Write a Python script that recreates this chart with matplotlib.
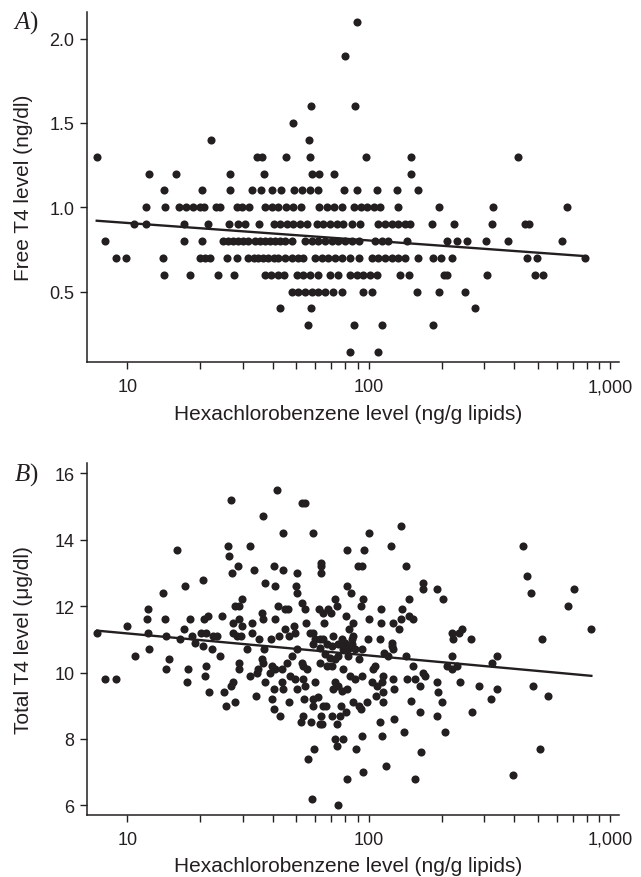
import numpy as np
import matplotlib
matplotlib.use('Agg')
import matplotlib.pyplot as plt
from matplotlib.ticker import FixedLocator, NullFormatter, FixedFormatter

# ---------------- data ----------------
# Panel A: free T4 (ng/dl) levels and hexachlorobenzene (ng/g lipids) per level
ft4_levels = [2.1, 1.9, 1.6, 1.5, 1.4, 1.3, 1.2, 1.1, 1.0, 0.9, 0.8, 0.7, 0.6, 0.5, 0.4, 0.3, 0.14]
hcb_ft4_2_1 = [89]
hcb_ft4_1_9 = [80]
hcb_ft4_1_6 = [57.7, 87.5]
hcb_ft4_1_5 = [48.4]
hcb_ft4_1_4 = [22.1, 56.5]
hcb_ft4_1_3 = [7.47, 34.4, 36.0, 45.3, 57.0, 97, 150, 416]
hcb_ft4_1_2 = [12.3, 15.9, 26.5, 36.8, 58.3, 62.1, 72, 149.6]
hcb_ft4_1_1 = [14.2, 20.3, 26.7, 32.7, 35.7, 39.7, 43.3, 49.0, 52.7, 57.1, 61.8, 78.9, 89.1,
               108, 131, 159]
hcb_ft4_1_0 = [11.9, 14.3, 16.4, 17.5, 18.7, 19.9, 20.8, 23.3, 24.2, 28.4, 29.8, 32.0, 37.2,
               39.7, 42.2, 45.4, 48.6, 52.2, 62.4, 67.0, 71.8, 77.3, 86.9, 92.6, 98.6, 105,
               111, 132, 195, 326, 663]
hcb_ft4_0_9 = [10.7, 12.0, 17.1, 21.5, 26.4, 28.8, 30.7, 35.1, 40.3, 42.9, 45.7, 48.6, 51.9,
               55.3, 60.8, 64.8, 69.1, 73.6, 78.4, 84.9, 92.0, 109.4, 116.7, 124.4, 132.5,
               141.3, 148, 182, 226, 324, 442, 461]
hcb_ft4_0_8 = [8.1, 17.1, 20.4, 25.0, 26.2, 27.5, 28.8, 30.2, 31.7, 33.8, 35.4, 37.2, 39.0,
               40.9, 42.9, 45.0, 48.0, 54.4, 58.0, 61.8, 65.9, 70.2, 74.8, 79.7, 84.9, 90.6,
               106, 113, 120.5, 143.5, 210, 231, 254, 305, 377, 631]
hcb_ft4_0_7 = [8.98, 9.88, 14.0, 20.0, 21.0, 22.0, 25.8, 28.4, 31.7, 33.3, 34.9, 36.6, 38.4,
               40.3, 42.2, 45.0, 48.0, 51.1, 53.6, 59.8, 63.8, 67.9, 72.4, 77.3, 83.6, 91.4,
               102.8, 109.4, 116.7, 124.4, 132.5, 141.3, 160, 185, 199, 220, 452, 497, 787]
hcb_ft4_0_6 = [14.2, 18.1, 23.8, 27.7, 37.2, 39.5, 42.2, 44.6, 50.2, 53.6, 57.1, 61.8, 69.1,
               74.8, 83.6, 89.1, 94.8, 101, 108.4, 134.6, 146, 204, 211, 307, 486, 524]
hcb_ft4_0_5 = [48.0, 51.1, 54.4, 58.0, 61.8, 65.9, 71.3, 77.3, 94.8, 102.8, 158, 196, 250]
hcb_ft4_0_4 = [42.9, 57.7, 275]
hcb_ft4_0_3 = [55.9, 86.4, 113.5, 184]
hcb_ft4_0_14 = [83.4, 109.6]
hcb_ft4_rows = [hcb_ft4_2_1, hcb_ft4_1_9, hcb_ft4_1_6, hcb_ft4_1_5, hcb_ft4_1_4, hcb_ft4_1_3,
                hcb_ft4_1_2, hcb_ft4_1_1, hcb_ft4_1_0, hcb_ft4_0_9, hcb_ft4_0_8, hcb_ft4_0_7,
                hcb_ft4_0_6, hcb_ft4_0_5, hcb_ft4_0_4, hcb_ft4_0_3, hcb_ft4_0_14]
# regression line
fit_a_x = [7.47, 787]
fit_a_y = [0.92, 0.71]

# Panel B: hexachlorobenzene (ng/g lipids) vs total T4 (ug/dl)
hcb_b = [26.8, 36.4, 16.0, 26.2, 32.3, 26.4, 28.6, 27.2, 33.3, 37.2, 20.6, 17.3, 14.1, 29.8,
         12.2, 27.9, 29.0, 12.1, 14.3, 18.2, 20.7, 21.5, 24.6, 36.0, 10.0, 17.2, 29.0, 27.3,
         29.9, 32.9, 32.7, 36.6, 7.5, 12.2, 14.5, 16.6, 18.6, 20.2, 21.2, 22.7, 23.4, 27.3,
         28.4, 29.6, 35.1,
         19.1, 20.5, 22.4, 12.3, 10.8, 14.9, 31.4, 36.8, 24.2, 29.0, 36.0, 14.5, 17.8, 21.1,
         29.0, 34.8, 34.5, 8.1, 9.0, 21.0, 32.3, 17.7, 27.5, 26.9, 21.8, 25.1, 34.1, 25.7,
         28.0, 37.2,
         41.6, 52.7, 54.4, 44.3, 58.9, 100, 136, 123.6, 81.3, 95.8, 63.2, 63.2, 63.2, 89.9,
         94.0, 142, 40.4, 44.0, 50.5, 40.9, 49.7, 50.2, 81.3, 84.7, 167, 167, 191, 203, 147,
         52.7, 54.3, 72.4, 94.8, 92.8, 42.0, 45.0, 46.4, 40.9, 62.4, 64.8, 67.9, 69.7, 73.6,
         55.1, 65.3, 80.5, 86.3, 83.0, 100, 112, 112.7, 126, 133, 136, 137, 147, 153, 45.0,
         46.5, 49.4, 49.2, 42.5, 39.3, 57.1, 58.9, 59.8, 62.8, 64.8, 71.0, 77.3, 86.3, 84.9,
         98.9, 111, 124.4,
         36.6, 39.6, 40.9, 39.0, 43.6, 47.2, 49.4, 45.7, 48.0, 50.2, 52.7, 53.6, 55.3, 53.6,
         54.4, 40.3, 43.6, 44.3, 50.2, 59.8, 62.8, 67.0, 70.2, 72.4, 74.8, 78.4, 82.2, 87.7,
         93.5, 78.4, 83.6, 87.7, 93.5, 80.8, 72.4, 74.8, 71.3, 77.3, 106, 104.5, 102.8, 108,
         114.8, 113, 127.6, 114.8, 107, 126.3, 143.5, 152.8, 155, 163, 168, 170, 39.6, 46.5,
         54.1, 58.9, 61.8, 58.5, 64.8, 66.2, 77.0, 85.7, 91.0, 92.8, 98.2, 114, 149.7, 40.6,
         42.9, 53.2, 63.2, 70.2, 76.1, 80.1, 52.2, 57.6, 62.8, 64.1, 73.6, 111, 126.7, 140,
         163, 72.4, 77.8, 73.6, 93.5, 113.8, 88.6, 59.5, 55.9, 164, 117.4, 94.8, 81.5, 155,
         58.3, 74.8,
         115.6, 120.5, 142.6, 124.4, 126.3,
         58.9, 62.8, 67.0, 70.6, 74.8, 79.7, 84.9, 66.0, 69.1, 82.2, 90.6,
         436, 451, 468, 705, 667, 220, 222, 237, 244, 264, 522, 834,
         220, 210, 220, 231, 323, 339, 191, 239, 286, 339, 321, 477, 553, 194, 200, 191, 267,
         206, 513, 396]
tt4_b = [15.2, 14.7, 13.7, 13.8, 13.8, 13.5, 13.2, 13.0, 13.1, 12.7, 12.8, 12.6, 12.4, 12.2,
         11.9, 12.0, 12.0, 11.6, 11.6, 11.6, 11.6, 11.7, 11.7, 11.8, 11.4, 11.3, 11.6, 11.5,
         11.4, 11.5, 11.2, 11.6, 11.2, 11.2, 11.1, 11.0, 11.1, 11.2, 11.2, 11.1, 11.1, 11.2,
         11.1, 11.1, 11.0,
         10.9, 10.8, 10.7, 10.7, 10.5, 10.4, 10.7, 10.7, 10.5, 10.3, 10.4, 10.1, 10.1, 10.2,
         10.1, 10.1, 10.0, 9.8, 9.8, 9.9, 9.9, 9.7, 9.7, 9.6, 9.4, 9.4, 9.3, 9.0,
         9.1, 9.7,
         15.5, 15.1, 15.1, 14.2, 14.2, 14.2, 14.4, 13.8, 13.7, 13.7, 13.3, 13.2, 13.0, 13.2,
         13.2, 13.2, 13.2, 13.1, 13.0, 12.6, 12.6, 12.4, 12.6, 12.4, 12.7, 12.5, 12.5, 12.2, 12.2,
         12.1, 11.9, 12.2, 12.2, 12.0, 12.0, 11.9, 11.9, 11.6, 11.9, 11.8, 11.9, 11.8, 12.0,
         11.5, 11.5, 11.7, 11.5, 11.3, 11.6, 11.9, 11.5, 11.5, 11.3, 11.6, 11.9, 11.7, 11.6, 11.3,
         11.1, 11.2, 11.4, 11.1, 11.0, 11.2, 11.2, 11.0, 11.0, 11.0, 11.1, 11.0, 11.1, 11.0,
         11.0, 11.0, 10.9,
         10.3, 10.2, 10.1, 10.0, 10.1, 9.9, 9.8, 10.3, 10.5, 10.7, 10.3, 10.2, 10.1, 9.8,
         9.6, 9.5, 9.7, 9.5, 9.5, 9.7, 10.3, 10.2, 10.2, 10.4, 10.5, 10.7, 10.7, 10.7,
         10.7, 10.1, 9.9, 9.8, 9.9, 9.5, 9.7, 9.6, 9.5, 9.45, 10.2, 10.1, 9.7, 9.6,
         9.9, 9.7, 9.5, 9.4, 9.3, 9.8, 9.8, 10.2, 9.8, 9.6, 10.0, 9.9, 9.2, 9.1,
         9.2, 9.2, 9.25, 9.0, 9.0, 9.0, 9.0, 9.1, 9.0, 8.9, 9.1, 9.1, 9.15, 8.9,
         8.7, 8.7, 8.7, 8.7, 8.7, 8.8, 8.5, 8.5, 8.45, 8.45, 8.45, 8.5, 8.6, 8.2,
         8.8, 8.0, 8.0, 7.8, 8.1, 8.1, 7.7, 7.7, 7.4, 7.6, 7.2, 7.0, 6.8, 6.8,
         6.2, 6.0,
         10.6, 10.5, 10.5, 10.8, 10.7,
         10.85, 10.75, 10.85, 10.8, 10.85, 10.9, 10.85, 10.55, 10.45, 10.5, 10.4,
         13.8, 12.9, 12.4, 12.5, 12.0, 11.2, 11.0, 11.2, 11.3, 11.0, 11.0, 11.3,
         10.5, 10.2, 10.1, 10.2, 10.3, 10.5, 9.7, 9.7, 9.6, 9.5, 9.2, 9.6, 9.3, 9.4, 9.1, 8.7, 8.8,
         8.2, 7.7, 6.9]
fit_b_x = [7.5, 834]
fit_b_y = [11.26, 9.90]

x_major = [10, 100, 1000]
x_major_labels = ['10', '100', '1,000']
x_minor = [20, 30, 40, 50, 60, 70, 80, 90, 200, 300, 400, 500, 600, 700, 800, 900]
ft4_ticks = [0.5, 1.0, 1.5, 2.0]
ft4_tick_labels = ['0.5', '1.0', '1.5', '2.0']
tt4_ticks = [6, 8, 10, 12, 14, 16]

# ---------------- style ----------------
plt.rcParams['font.family'] = ['Liberation Sans', 'DejaVu Sans']
plt.rcParams['mathtext.fontset'] = 'custom'
plt.rcParams['mathtext.it'] = 'Liberation Serif:italic'
plt.rcParams['mathtext.rm'] = 'Liberation Serif'

DOT = '#231f20'

fig = plt.figure(figsize=(6.41, 8.78), dpi=100)
axA = fig.add_axes([0.1365, 0.5862, 0.8297, 0.3993])
axB = fig.add_axes([0.1365, 0.0710, 0.8297, 0.4002])


def style(ax):
    ax.set_xscale('log')
    ax.set_xlim(6.84, 1089)
    ax.xaxis.set_major_locator(FixedLocator(x_major))
    ax.xaxis.set_major_formatter(FixedFormatter(x_major_labels))
    ax.xaxis.set_minor_locator(FixedLocator(x_minor))
    ax.xaxis.set_minor_formatter(NullFormatter())
    for s in ('top', 'right'):
        ax.spines[s].set_visible(False)
    for s in ('left', 'bottom'):
        ax.spines[s].set_linewidth(1.1)
        ax.spines[s].set_color('#231f20')
    ax.tick_params(axis='x', which='both', direction='out', length=5, width=1.0,
                   labelsize=13, pad=6.5, colors='#231f20')
    ax.tick_params(axis='y', which='major', direction='out', length=5, width=1.0,
                   labelsize=13, pad=4.5, colors='#231f20')


# Panel A
ax = axA
style(ax)
for lvl, xs in zip(ft4_levels, hcb_ft4_rows):
    ax.scatter(xs, [lvl] * len(xs), s=34, color=DOT, linewidths=0, zorder=3)
ax.plot(fit_a_x, fit_a_y, color=DOT, lw=1.7, zorder=4)
ax.set_ylim(0.08, 2.16)
ax.set_yticks(ft4_ticks)
ax.set_yticklabels(ft4_tick_labels)
ax.set_xlabel('Hexachlorobenzene level (ng/g lipids)', fontsize=15, color='#231f20')
ax.xaxis.label.set_va('center')
ax.xaxis.set_label_coords(0.49, -0.145)
ax.set_ylabel('Free T4 level (ng/dl)', fontsize=15, color='#231f20')
ax.yaxis.label.set_va('center')
ax.yaxis.set_label_coords(-0.12, 0.5)

# Panel B
ax = axB
style(ax)
ax.scatter(hcb_b, tt4_b, s=34, color=DOT, linewidths=0, zorder=3)
ax.plot(fit_b_x, fit_b_y, color=DOT, lw=1.7, zorder=4)
ax.set_ylim(5.72, 16.3)
ax.set_yticks(tt4_ticks)
ax.set_xlabel('Hexachlorobenzene level (ng/g lipids)', fontsize=15, color='#231f20')
ax.xaxis.label.set_va('center')
ax.xaxis.set_label_coords(0.49, -0.146)
ax.set_ylabel('Total T4 level (\u03bcg/dl)', fontsize=15, color='#231f20')
ax.yaxis.label.set_va('center')
ax.yaxis.set_label_coords(-0.12, 0.5)

fig.text(26 / 641, 1 - 23 / 878, r'$\mathit{A}$)', fontsize=18, family='Liberation Serif',
         ha='center', va='center', color='#231f20')
fig.text(26 / 641, 1 - 475 / 878, r'$\mathit{B}$)', fontsize=18, family='Liberation Serif',
         ha='center', va='center', color='#231f20')

fig.savefig('out.png', dpi=100)
